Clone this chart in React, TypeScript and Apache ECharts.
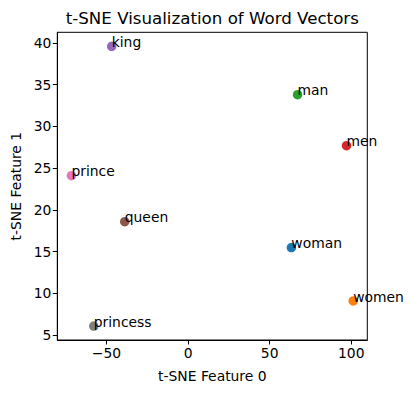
import React, { useEffect, useRef } from "react";
import * as echarts from "echarts";

const words = ["woman", "women", "man", "men", "king", "queen", "prince", "princess"];
const xValues = [63.3, 101.2, 67.1, 97.1, -46.8, -38.8, -71.5, -57.8];
const yValues = [15.5, 9.1, 33.8, 27.7, 39.6, 18.6, 24.1, 6.1];
const colors = ["#1f77b4", "#ff7f0e", "#2ca02c", "#d62728", "#9467bd", "#8c564b", "#e377c2", "#7f7f7f"];
const xTicks = [-50, 0, 50, 100];
const yTicks = [5, 10, 15, 20, 25, 30, 35, 40];
const titleText = "t-SNE Visualization of Word Vectors";
const xName = "t-SNE Feature 0";
const yName = "t-SNE Feature 1";

const FONT = "DejaVu Sans";
const FS = 13.89;

export default function App() {
  const ref = useRef<HTMLDivElement>(null);
  useEffect(() => {
    if (!ref.current) return;
    const chart = echarts.init(ref.current, null, { renderer: "svg" });
    const xMin = Math.min(...xValues), xMax = Math.max(...xValues);
    const yMin = Math.min(...yValues), yMax = Math.max(...yValues);
    const xm = (xMax - xMin) * 0.05, ym = (yMax - yMin) * 0.05;
    const fmt = (v: number) => String(v).replace("-", "\u2212");
    const axisCommon = {
      type: "value" as const,
      splitLine: { show: false },
      axisLine: { show: true, onZero: false, lineStyle: { color: "#000", width: 1 } },
      axisTick: { show: true, length: 4.5, lineStyle: { color: "#000", width: 1 } },
      nameTextStyle: { fontFamily: FONT, fontSize: FS, color: "#000" },
    };
    chart.setOption({
      animation: false,
      backgroundColor: "#fff",
      graphic: [
        {
          type: "text",
          x: 212.3,
          y: 18.5,
          style: {
            text: titleText,
            fontFamily: FONT,
            fontSize: 16.67,
            fill: "#000",
            textAlign: "center",
            textVerticalAlign: "middle",
          },
        },
      ],
      grid: {
        left: 57.3,
        right: 45.7,
        top: 32.3,
        bottom: 53,
        show: true,
        borderColor: "#000",
        borderWidth: 1,
        backgroundColor: "transparent",
      },
      xAxis: {
        ...axisCommon,
        min: xMin - xm,
        max: xMax + xm,
        name: xName,
        nameLocation: "middle",
        nameGap: 29,
        axisTick: { ...axisCommon.axisTick, customValues: xTicks },
        axisLabel: {
          customValues: xTicks,
          formatter: fmt,
          fontFamily: FONT,
          fontSize: FS,
          color: "#000",
          margin: 6,
        },
      },
      yAxis: {
        ...axisCommon,
        min: yMin - ym,
        max: yMax + ym,
        name: yName,
        nameLocation: "middle",
        nameGap: 33,
        axisTick: { ...axisCommon.axisTick, customValues: yTicks },
        axisLabel: {
          customValues: yTicks,
          formatter: fmt,
          fontFamily: FONT,
          fontSize: FS,
          color: "#000",
          margin: 6,
        },
      },
      series: [
        {
          type: "scatter",
          symbolSize: 9.5,
          itemStyle: { opacity: 1 },
          data: words.map((w, i) => ({
            name: w,
            value: [xValues[i], yValues[i]],
            itemStyle: { color: colors[i], opacity: 1 },
          })),
          label: {
            show: true,
            formatter: (p: any) => p.name,
            position: [4.75, 7.5],
            align: "left",
            verticalAlign: "bottom",
            fontFamily: FONT,
            fontSize: FS,
            color: "#000",
          },
        },
      ],
    });
    return () => chart.dispose();
  }, []);
  return (
    <div
      ref={ref}
      style={{ position: "absolute", left: 0, top: 0, width: 413, height: 393 }}
    />
  );
}
